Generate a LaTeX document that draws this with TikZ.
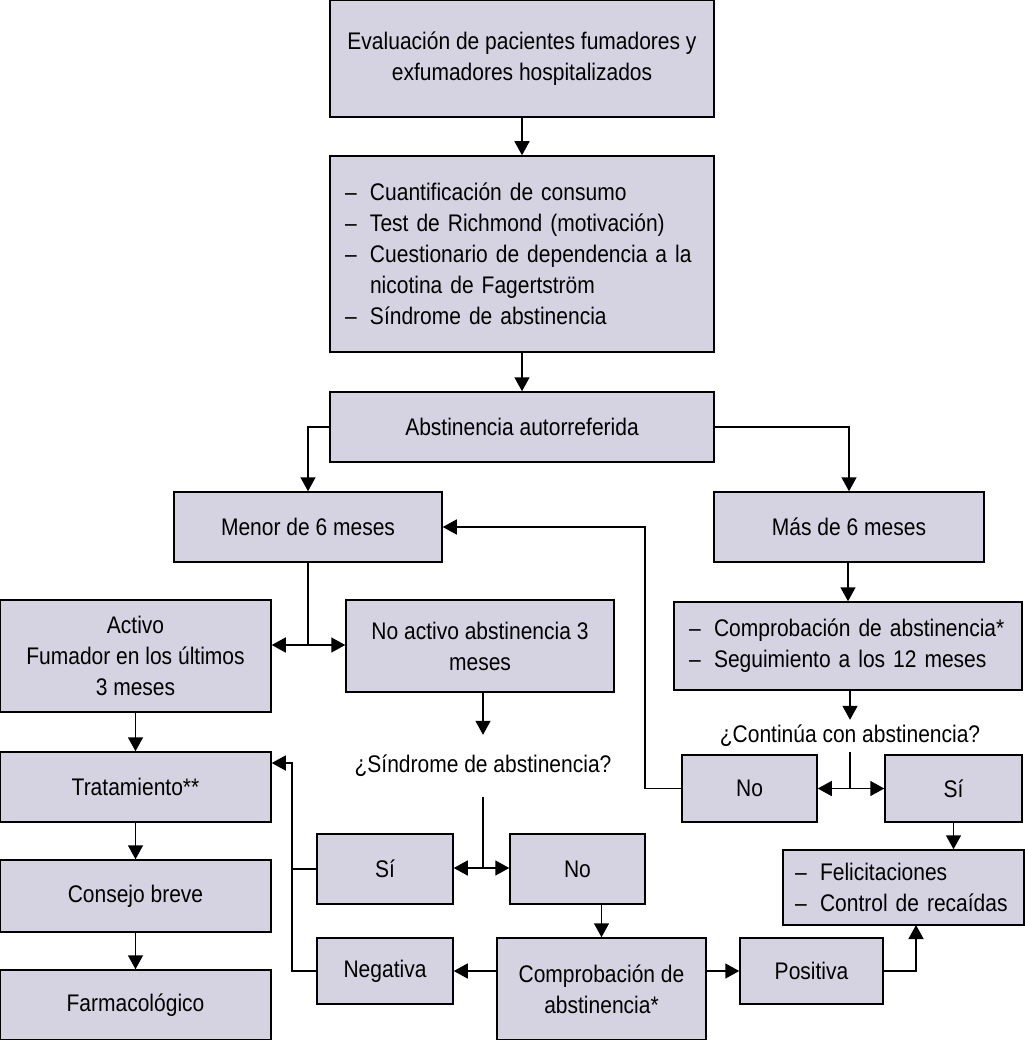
\documentclass[tikz,border=0pt]{standalone}
\usepackage{fontspec}
\setmainfont{Liberation Sans}[FakeStretch=0.875]
\usetikzlibrary{arrows.meta}
\definecolor{boxfill}{RGB}{213,211,225}
\begin{document}
\begin{tikzpicture}[x=1pt,y=-1pt,
  every node/.style={font=\fontsize{24}{31}\selectfont, inner sep=0pt},
  box/.style={draw=black, line width=1.5pt, fill=boxfill, align=center},
  lbox/.style={box, align=left},
  conn/.style={line width=1.5pt},
  arr/.style={conn, -{Triangle[length=14pt,width=15pt]}},
  darr/.style={conn, {Triangle[length=14pt,width=15pt]}-{Triangle[length=14pt,width=15pt]}},
]
\useasboundingbox (0,0) rectangle (1024,1040);
\newcommand{\dashitem}[1]{\makebox[25pt][l]{–}#1}
% boxes
\node[box, minimum width=384, minimum height=117] (top) at (522,58.5) {Evaluación de pacientes fumadores y\\exfumadores hospitalizados};
\node[lbox, minimum width=384, minimum height=196, text width=354] (b2) at (522,254) {\dashitem{Cuantificación de consumo}\\\dashitem{Test de Richmond (motivación)}\\\dashitem{Cuestionario de dependencia a la}\\\hspace*{25pt}nicotina de Fagertström\\\dashitem{Síndrome de abstinencia}};
\node[box, minimum width=384, minimum height=70] (b3) at (522,427) {Abstinencia autorreferida};
\node[box, minimum width=268, minimum height=70] (menor) at (308,527) {Menor de 6 meses};
\node[box, minimum width=270, minimum height=70] (mas) at (849,527) {Más de 6 meses};
\node[box, minimum width=271, minimum height=112] (activo) at (135.5,656) {Activo\\Fumador en los últimos\\3 meses};
\node[box, minimum width=268, minimum height=92] (noact) at (480,646) {No activo abstinencia 3\\meses};
\node[box, minimum width=271, minimum height=70] (trat) at (135.5,787) {Tratamiento**};
\node[box, minimum width=271, minimum height=72] (consejo) at (135.5,896) {Consejo breve};
\node[box, minimum width=271, minimum height=70] (farm) at (135.5,1005) {Farmacológico};
\node[minimum width=300, minimum height=62] (q1) at (483,766) {¿Síndrome de abstinencia?};
\node[box, minimum width=136, minimum height=70] (si1) at (385,869) {Sí};
\node[box, minimum width=135, minimum height=70] (no1) at (577.5,869) {No};
\node[box, minimum width=209, minimum height=102] (comp) at (601.5,989) {Comprobación de\\abstinencia*};
\node[box, minimum width=136, minimum height=66] (neg) at (385,971) {Negativa};
\node[box, minimum width=143, minimum height=66] (pos) at (811.5,971) {Positiva};
\node[lbox, minimum width=241, minimum height=75, text width=217] (feli) at (903.5,887.5) {\dashitem{Felicitaciones}\\\dashitem{Control de recaídas}};
\node[lbox, minimum width=348, minimum height=88, text width=318] (comp2) at (848,646) {\dashitem{Comprobación de abstinencia*}\\\dashitem{Seguimiento a los 12 meses}};
\node[minimum width=300, minimum height=32] (q2) at (850,736) {¿Continúa con abstinencia?};
\node[box, minimum width=135, minimum height=67] (no2) at (749.5,788.5) {No};
\node[box, minimum width=137, minimum height=67] (si2) at (953.5,788.5) {Sí};
% coordinates
\coordinate (j1) at (308,645);
\coordinate (j2) at (483,868);
\coordinate (j3) at (850,788.5);
\coordinate (c1) at (292,763);
\coordinate (c2) at (916,925);
\coordinate (c3) at (645,527);
% connectors
\draw[arr] (top) -- (b2);
\draw[arr] (b2) -- (b3);
\draw[arr] (b3.west) -| (menor.north);
\draw[arr] (b3.east) -| (mas.north);
\draw[conn] (menor.south) -- (j1);
\draw[darr] (activo.east |- j1) -- (noact.west |- j1);
\draw[arr] (activo) -- (trat);
\draw[arr] (trat) -- (consejo);
\draw[arr] (consejo) -- (farm);
\draw[arr] (noact.south -| q1.north) -- (q1.north);
\draw[conn] (q1.south) -- (j2);
\draw[darr] (si1.east |- j2) -- (no1.west |- j2);
\draw[arr] (si1.west) -| (c1) -- (trat.east |- c1);
\draw[conn] (neg.west) -| (c1);
\draw[arr] (comp.north |- no1.south) -- (comp.north);
\draw[arr] (comp.west |- neg.east) -- (neg.east);
\draw[arr] (comp.east |- pos.west) -- (pos.west);
\draw[arr] (pos.east) -| (c2);
\draw[arr] (mas.south -| comp2.north) -- (comp2.north);
\draw[arr] (comp2.south -| q2.north) -- (q2.north);
\draw[conn] (q2.south) -- (j3);
\draw[darr] (no2.east) -- (si2.west);
\draw[arr] (no2.west) -| (c3) -- (menor.east);
\draw[arr] (si2.south) -- (si2.south |- feli.north);
\end{tikzpicture}
\end{document}
